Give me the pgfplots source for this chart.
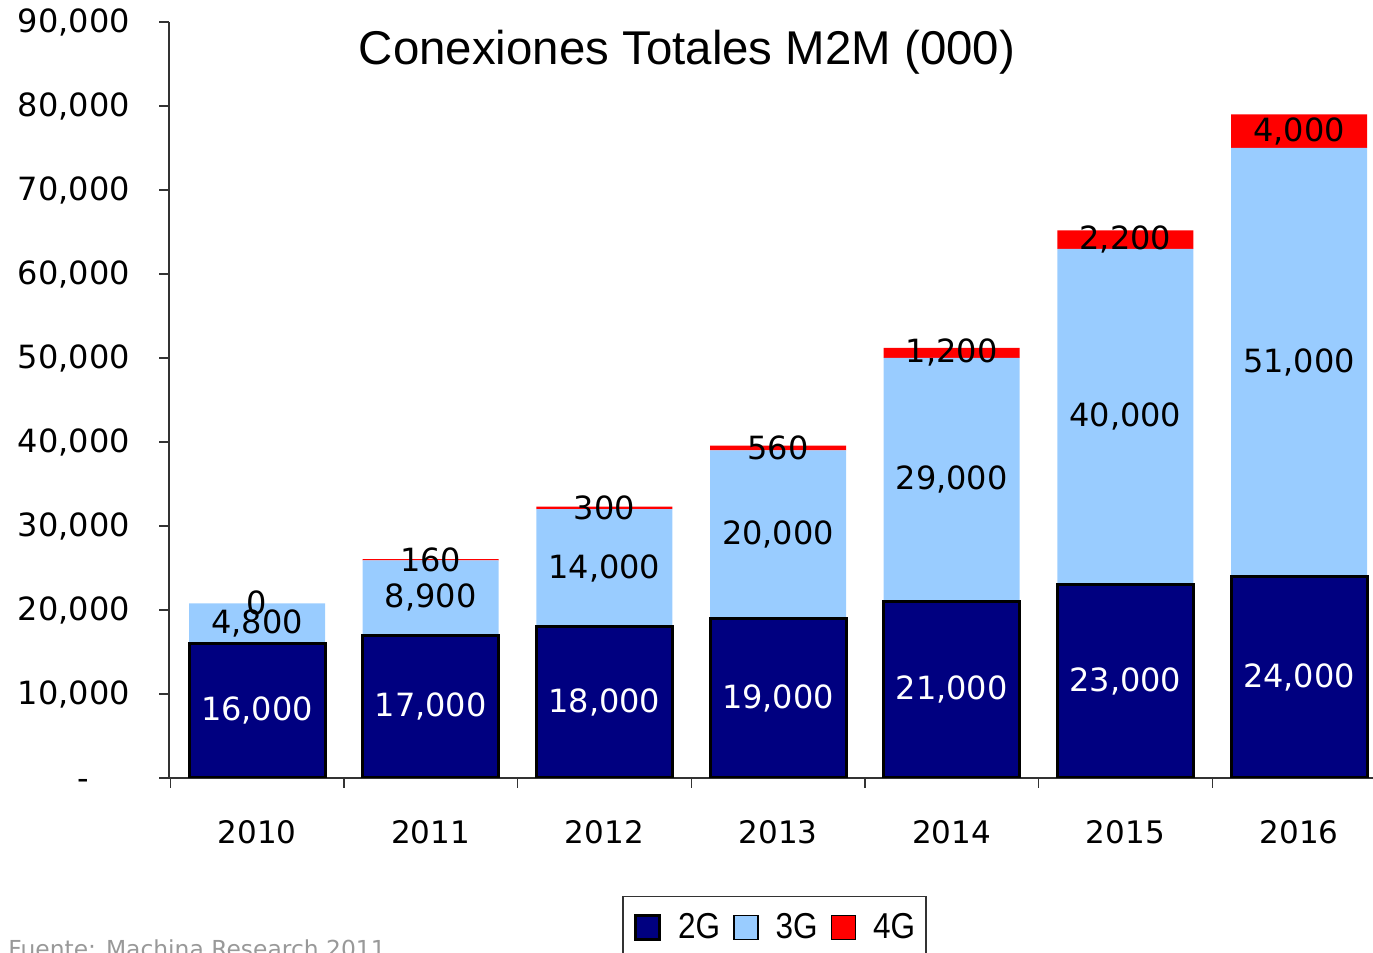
\documentclass[border=0pt]{standalone}
\usepackage{fontspec}
\setmainfont{DejaVu Sans}
\newfontfamily\arialfont{Liberation Sans}
\usepackage{graphicx}
\usepackage{pgfplots}
\pgfplotsset{compat=1.18}
\usepackage{pgfplotstable}

\definecolor{dosg}{RGB}{0,0,128}
\definecolor{tresg}{RGB}{153,204,255}
\definecolor{cuatrog}{RGB}{255,0,0}

% conexiones M2M en miles
\pgfplotstableread{
x g2 g3 g4
0 16000 4800 0
1 17000 8900 160
2 18000 14000 300
3 19000 20000 560
4 21000 29000 1200
5 23000 40000 2200
6 24000 51000 4000
}\conexiones

\pgfplotsset{
  marco/.style={
    at={(84.5pt,87.5pt)}, anchor=south west,
    scale only axis, width=602pt, height=378pt,
    xmin=-0.507, xmax=6.426, ymin=0, ymax=90000,
  },
}

\begin{document}
\begin{tikzpicture}
\useasboundingbox (0,0) rectangle (686.5pt,476.5pt);
\clip (0,0) rectangle (686.5pt,476.5pt);

\begin{axis}[marco,
  ybar stacked, bar width=68pt,
  axis x line*=bottom, axis y line*=left,
  axis line style={line width=0.7pt, black!80},
  tick align=outside, major tick length=5pt, minor tick length=5pt,
  tick style={black!80, line width=0.7pt},
  xtick={0,...,6},
  xticklabels={2010,2011,2012,2013,2014,2015,2016},
  major x tick style={draw=none},
  minor xtick={-0.5,0.5,...,5.5},
  ytick={0,10000,...,90000},
  yticklabels={{-\phantom{00}},{10,000},{20,000},{30,000},{40,000},{50,000},{60,000},{70,000},{80,000},{90,000}},
  scaled y ticks=false,
  xticklabel style={font=\fontsize{15.5}{15.5}\selectfont, yshift=-12.5pt},
  yticklabel style={font=\fontsize{16}{16}\selectfont, xshift=-11pt},
  legend columns=3,
  legend style={
    at={(0.503,-0.156)}, anchor=north,
    draw=black!80, line width=0.7pt,
    inner xsep=5.5pt, inner ysep=8.5pt,
    font=\arialfont\fontsize{18}{18}\selectfont,
    nodes={inner sep=0pt},
    /tikz/every even column/.append style={column sep=6.5pt},
    /tikz/every odd column/.append style={column sep=8.5pt},
  },
  legend image code/.code={\draw[#1] (0pt,-6pt) rectangle (12pt,6pt);},
]
\addplot[fill=dosg, draw=black, line width=1.5pt] table[x=x, y=g2] {\conexiones};
\addplot[fill=tresg, draw=none] table[x=x, y=g3] {\conexiones};
\addplot[fill=cuatrog, draw=none] table[x=x, y=g4] {\conexiones};
\legend{\scalebox{0.875}[1]{2G}, \scalebox{0.875}[1]{3G}, \scalebox{0.875}[1]{4G}\hspace{3pt}}
\end{axis}

% etiquetas centradas en cada segmento
\begin{axis}[marco, hide axis, clip=false,
  nodes near coords,
  every node near coord/.append style={anchor=center, font=\fontsize{16}{16}\selectfont},
  /pgf/number format/.cd, fixed, precision=0, 1000 sep={,}, assume math mode=true,
]
\addplot[draw=none, nodes near coords style={text=white}, point meta=\thisrow{g2}]
  table[x=x, y expr=0.5*\thisrow{g2}] {\conexiones};
\addplot[draw=none, point meta=\thisrow{g3}]
  table[x=x, y expr=\thisrow{g2}+0.5*\thisrow{g3}] {\conexiones};
\addplot[draw=none, point meta=\thisrow{g4}]
  table[x=x, y expr=\thisrow{g2}+\thisrow{g3}+0.5*\thisrow{g4}] {\conexiones};
\end{axis}

\node[anchor=base, font=\arialfont\fontsize{23.7}{23.7}\selectfont] at (343.5pt,444pt) {Conexiones Totales M2M (000)};
\node[anchor=base west, inner sep=0pt, text=black!40, font=\fontsize{11.7}{11.7}\selectfont] at (4pt,-2.5pt) {Fuente: Machina Research 2011};
\end{tikzpicture}
\end{document}
